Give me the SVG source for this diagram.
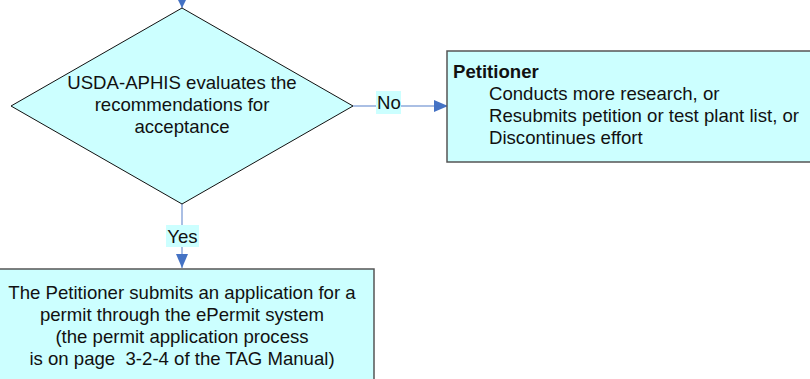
<svg xmlns="http://www.w3.org/2000/svg" width="810" height="379" viewBox="0 0 810 379">
<style>
.t{font-family:"Liberation Sans",Arial,sans-serif;font-size:18.6px;fill:#111}
.c{text-anchor:middle}
.b{font-weight:bold}
.ln{stroke:#8eaadb;stroke-width:1.5;fill:none}
.box{fill:#ccffff;stroke:#555;stroke-width:1.5}
.lbl{fill:#ccffff}
</style>
<defs>
<marker id="ah" markerWidth="10" markerHeight="10" refX="10" refY="5" orient="auto" markerUnits="userSpaceOnUse">
<path d="M0,0 L10,5 L0,10 Z" fill="#4472c4"/>
</marker>
<marker id="ah2" markerWidth="14" markerHeight="12" refX="14" refY="6" orient="auto" markerUnits="userSpaceOnUse">
<path d="M0,0 L14,6 L0,12 Z" fill="#4472c4"/>
</marker>
</defs>
<g id="connectors">
<line class="ln" x1="182" y1="-2" x2="182" y2="8" marker-end="url(#ah)"/>
<line class="ln" x1="353" y1="106" x2="448" y2="106" marker-end="url(#ah2)"/>
<rect class="lbl" x="376" y="91" width="25" height="23"/>
<text class="t c" x="389" y="109">No</text>
<line class="ln" x1="182" y1="204" x2="182" y2="268" marker-end="url(#ah2)"/>
<rect class="lbl" x="166" y="225" width="33" height="22"/>
<text class="t c" x="182.5" y="243">Yes</text>
</g>
<g id="decision">
<polygon points="182,8 353,106 182,204 11,106" fill="#ccffff" stroke="#111" stroke-width="1"/>
<text class="t c" x="182" y="89">USDA-APHIS evaluates the</text>
<text class="t c" x="182" y="111">recommendations for</text>
<text class="t c" x="182" y="133">acceptance</text>
</g>
<g id="petitioner">
<rect class="box" x="447" y="51" width="370" height="111"/>
<text class="t b" x="453" y="78">Petitioner</text>
<text class="t" x="489" y="100">Conducts more research, or</text>
<text class="t" x="489" y="122">Resubmits petition or test plant list, or</text>
<text class="t" x="489" y="144">Discontinues effort</text>
</g>
<g id="permit">
<rect class="box" x="-10" y="269" width="384" height="120"/>
<text class="t c" x="182" y="299">The Petitioner submits an application for a</text>
<text class="t c" x="182" y="321">permit through the ePermit system</text>
<text class="t c" x="182" y="343">(the permit application process</text>
<text class="t c" x="182" y="365" xml:space="preserve">is on page  3-2-4 of the TAG Manual)</text>
</g>
</svg>
